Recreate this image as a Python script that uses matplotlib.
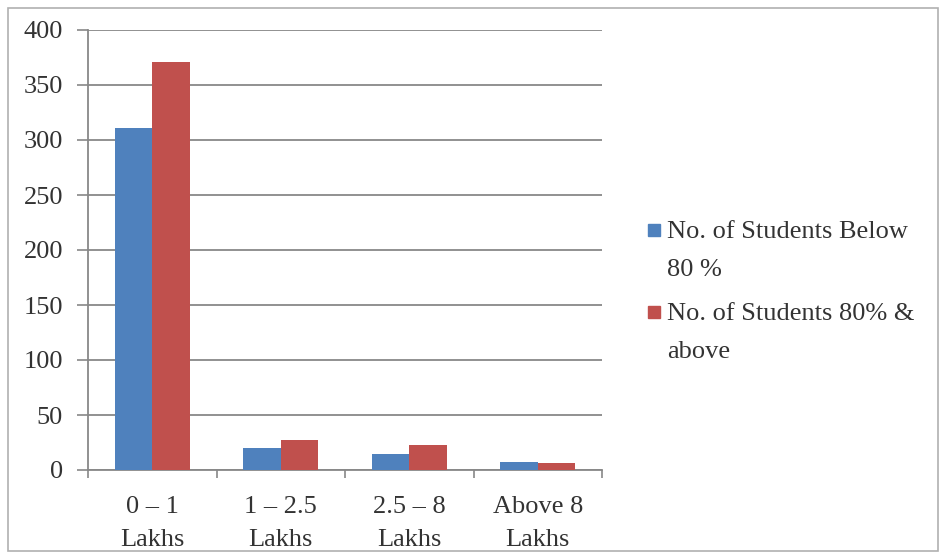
import numpy as np
import matplotlib.pyplot as plt
from matplotlib.patches import Rectangle

categories = ["0 – 1\nLakhs", "1 – 2.5\nLakhs", "2.5 – 8\nLakhs", "Above 8\nLakhs"]
below_80 = [311, 20, 15, 7]
above_80 = [371, 27, 23, 6]
series_labels = ["No. of Students Below\n80 %", "No. of Students 80% &\nabove"]
series_colors = ["#4F81BD", "#C0504D"]
yticks = [0, 50, 100, 150, 200, 250, 300, 350, 400]

plt.rcParams['font.family'] = ['Liberation Serif', 'DejaVu Serif']
txt = "#333333"
grey = "#888888"
W, H = 941, 557

fig = plt.figure(figsize=(W / 100, H / 100), dpi=100)
ax = fig.add_axes([88 / W, 1 - 470 / H, (602 - 88) / W, 440 / H])

x = np.arange(len(categories))
w = 0.29
ax.bar(x - w / 2, below_80, w, color=series_colors[0], zorder=3)
ax.bar(x + w / 2, above_80, w, color=series_colors[1], zorder=3)

ax.set_xlim(-0.5, len(categories) - 0.5)
ax.set_ylim(0, 400)
ax.set_yticks(yticks)
ax.tick_params(axis='y', labelsize=19, labelcolor=txt, length=8, width=1.2, color=grey, pad=10)
ax.grid(axis='y', color=grey, linewidth=1.3, zorder=0)

# category labels centred, tick marks on the boundaries
ax.set_xticks(x)
ax.set_xticklabels(categories, fontsize=19, color=txt, linespacing=1.6)
ax.tick_params(axis='x', length=0, pad=19)
ax.set_xticks(np.arange(-0.5, len(categories)), minor=True)
ax.tick_params(axis='x', which='minor', length=6, width=1.2, color=grey)

for side in ["top", "right"]:
    ax.spines[side].set_visible(False)
for side in ["left", "bottom"]:
    ax.spines[side].set_color(grey)
    ax.spines[side].set_linewidth(1.3)

# legend by hand so the swatch sits level with the first text line
# (va='baseline' pins the last line, hence the extra 38 px)
for i, (label, col) in enumerate(zip(series_labels, series_colors)):
    yc = 230 + 82 * i
    fig.patches.append(Rectangle((648 / W, 1 - (yc + 6) / H), 12 / W, 12 / H,
                                 transform=fig.transFigure, color=col))
    fig.text(667 / W, 1 - (yc + 8 + 38) / H, label, fontsize=19, color=txt,
             ha='left', va='baseline', linespacing=1.95)

# light frame round the whole chart
fig.patches.append(Rectangle((8 / W, 6 / H), 930 / W, 543 / H,
                             transform=fig.transFigure, fill=False,
                             edgecolor="#b0b0b0", linewidth=1.2))

fig.savefig("out.png", dpi=100)
